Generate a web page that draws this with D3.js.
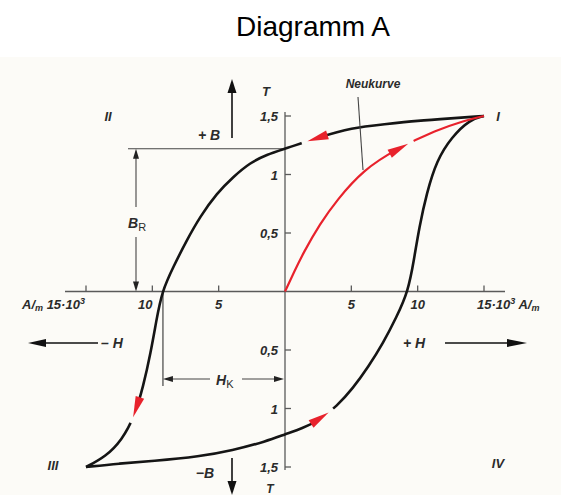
<!DOCTYPE html>
<html><head><meta charset="utf-8">
<script src="https://cdn.jsdelivr.net/npm/d3@7"></script>
<style>html,body{margin:0;padding:0;background:#fff;}svg{display:block;}</style>
</head><body>
<script>
// ---- Data (H in 10^3 A/m, B in T) ----
const title = "Diagramm A";
// descending branch I -> III
const branchDownH = [15, 12.5, 10, 7.5, 5, 2.6, 0, -1.38, -2.64, -3.9, -5.14, -6.4, -7.4, -8.42, -9.28, -9.7, -10.12, -10.68, -11.35, -12.3, -13.5, -15];
const branchDownB = [1.5, 1.48, 1.46, 1.43, 1.40, 1.32, 1.22, 1.17, 1.10, 0.98, 0.84, 0.64, 0.44, 0.21, 0, -0.25, -0.52, -0.81, -1.07, -1.27, -1.41, -1.5];
// ascending branch III -> I
const branchUpH = [-15, -12.5, -10, -6.4, -4, -1.4, 0, 1.3, 2.6, 3.9, 5.1, 6.3, 7.4, 8.4, 9.28, 9.72, 10.12, 10.68, 11.43, 12.56, 13.94, 15];
const branchUpB = [-1.5, -1.47, -1.45, -1.41, -1.36, -1.28, -1.22, -1.17, -1.10, -0.98, -0.83, -0.64, -0.44, -0.22, 0, 0.27, 0.55, 0.84, 1.12, 1.32, 1.47, 1.5];
// Neukurve (virgin curve)
const virginH = [0, 0.7, 1.38, 2.64, 3.9, 5.9, 8.42, 11.43, 13.5, 15];
const virginB = [0, 0.17, 0.33, 0.58, 0.78, 1.04, 1.22, 1.38, 1.46, 1.5];
// direction arrowheads: branch and H at tip
const arrowBranches = ["down", "virgin", "down", "up"];
const arrowTipH = [1.7, 9.27, -11.45, 3.3];
// ticks
const xTicks = [-15, -10, -5, 5, 10, 15];
const xTickLabels = ["", "10", "5", "5", "10", ""];
const yTicks = [1.5, 1, 0.5, -0.5, -1, -1.5];
const yTickLabels = ["1,5", "1", "0,5", "0,5", "1", "1,5"];
const remanenceB = 1.22;
const coerciveH = -9.2;

const W = 561, H = 495;
const svg = d3.select("body").append("svg").attr("width", W).attr("height", H);
const bg = "#fcfbf7";
svg.append("rect").attr("width", W).attr("height", H).attr("fill", "#fff");
svg.append("rect").attr("x", 0).attr("y", 57).attr("width", W).attr("height", H - 57).attr("fill", bg);

svg.append("text").attr("x", 313).attr("y", 36).attr("text-anchor", "middle")
  .attr("font-family", "Liberation Sans, Arial, sans-serif").attr("font-size", 28).attr("fill", "#000").text(title);

const x = d3.scaleLinear().domain([-15, 15]).range([86, 484]);
const y = d3.scaleLinear().domain([-1.5, 1.5]).range([467, 116]);
const x0 = x(0), y0 = y(0);
const axisCol = "#5a5a5a", ink = "#2b2b2b";
const lblFont = "Liberation Sans, Arial, sans-serif";

function txt(t, px, py, anchor, size) {
  return svg.append("text").attr("x", px).attr("y", py).attr("text-anchor", anchor || "start")
    .attr("font-family", lblFont).attr("font-style", "italic").attr("font-weight", "bold")
    .attr("font-size", size || 13).attr("fill", ink).text(t);
}
function arrowHead(tx, ty, dx, dy, len, hw, col) {
  const n = Math.hypot(dx, dy); dx /= n; dy /= n;
  const bx = tx - dx * len, by = ty - dy * len;
  svg.append("path").attr("d", `M${tx},${ty}L${bx - dy * hw},${by + dx * hw}L${bx + dy * hw},${by - dx * hw}Z`).attr("fill", col);
}
function line(x1, y1, x2, y2, col, w) {
  svg.append("line").attr("x1", x1).attr("y1", y1).attr("x2", x2).attr("y2", y2)
    .attr("stroke", col || axisCol).attr("stroke-width", w || 1.3);
}

// axes
line(65, y0, 505, y0);
line(x0, 112, x0, 470);
xTicks.forEach((t, i) => {
  line(x(t), y0, x(t), y0 - 6);
  if (xTickLabels[i]) txt(xTickLabels[i], x(t) + (t === -10 ? -7 : 0), y0 + 17, "middle", 13);
});
yTicks.forEach((t, i) => {
  line(x0, y(t), x0 + 6, y(t));
  txt(yTickLabels[i], x0 - 7, y(t) + 5, "end", 13);
});
// axis unit labels
const lft = txt("", 22, 309, "start", 13);
lft.append("tspan").text("A/");
lft.append("tspan").attr("font-size", 9).attr("dy", 2).text("m");
lft.append("tspan").attr("dy", -2).text(" 15·10");
lft.append("tspan").attr("font-size", 9).attr("dy", -5).text("3");
const rgt = txt("", 477, 309, "start", 13);
rgt.append("tspan").text("15·10");
rgt.append("tspan").attr("font-size", 9).attr("dy", -5).text("3");
rgt.append("tspan").attr("dy", 5).text(" A/");
rgt.append("tspan").attr("font-size", 9).attr("dy", 2).text("m");

// T labels and B arrows
txt("T", 266, 96, "middle", 13);
txt("T", 270, 493, "middle", 12);
line(232, 138, 232, 90, "#111", 1.6);
arrowHead(232, 79, 0, -1, 14, 4.5, "#111");
txt("+ B", 209, 140, "middle", 14);
line(232, 458, 232, 482, "#111", 1.6);
arrowHead(232, 495, 0, 1, 14, 4.5, "#111");
txt("−B", 205, 478, "middle", 14);
// H arrows
line(44, 343, 98, 343, "#111", 1.4);
arrowHead(28, 343, -1, 0, 18, 4, "#111");
txt("– H", 101, 348, "start", 14);
line(445, 343, 510, 343, "#111", 1.4);
arrowHead(527, 343, 1, 0, 20, 4, "#111");
txt("+ H", 403, 348, "start", 14);

// quadrant labels
txt("I", 498, 121, "middle", 13);
txt("II", 108, 121, "middle", 13);
txt("III", 53, 470, "middle", 13);
txt("IV", 498, 468, "middle", 13);

// B_R dimension
line(128, y(remanenceB), x0, y(remanenceB), "#444", 1.2);
line(136, y(remanenceB) + 8, 136, 207, "#444", 1.1);
line(136, 237, 136, y0 - 8, "#444", 1.1);
arrowHead(136, y(remanenceB), 0, -1, 10, 3, "#222");
arrowHead(136, y0, 0, 1, 10, 3, "#222");
const br = txt("B", 128, 228, "start", 14);
br.append("tspan").attr("font-style", "normal").attr("font-weight", "normal").attr("font-size", 11).attr("dy", 3).attr("fill", ink).text("R");
// H_K dimension
line(x(coerciveH), y0, x(coerciveH), 386, "#444", 1.2);
line(x(coerciveH) + 8, 379, 210, 379, "#444", 1.1);
line(242, 379, x0 - 8, 379, "#444", 1.1);
arrowHead(x(coerciveH), 379, -1, 0, 10, 3, "#222");
arrowHead(x0 - 1, 379, 1, 0, 10, 3, "#222");
const hk = txt("H", 216, 385, "start", 14);
hk.append("tspan").attr("font-style", "normal").attr("font-weight", "normal").attr("font-size", 11).attr("dy", 3).attr("fill", ink).text("K");

// curves
const gen = d3.line().x(d => x(d[0])).y(d => y(d[1])).curve(d3.curveBasis);
const branches = {
  down: d3.zip(branchDownH, branchDownB),
  up: d3.zip(branchUpH, branchUpB),
  virgin: d3.zip(virginH, virginB)
};
const black = "#151515", red = "#e8222c";
const paths = {};
paths.down = svg.append("path").attr("d", gen(branches.down)).attr("fill", "none").attr("stroke", black).attr("stroke-width", 2.6);
paths.up = svg.append("path").attr("d", gen(branches.up)).attr("fill", "none").attr("stroke", black).attr("stroke-width", 2.6);
paths.virgin = svg.append("path").attr("d", gen(branches.virgin)).attr("fill", "none").attr("stroke", red).attr("stroke-width", 2.2);

// Neukurve label + leader
txt("Neukurve", 373, 88, "middle", 12);
line(358, 97, 363, 170, "#444", 1.1);

// arrowheads along curves
arrowBranches.forEach((b, i) => {
  const node = paths[b].node();
  const total = node.getTotalLength();
  const tx = x(arrowTipH[i]);
  let best = 0, bd = Infinity;
  for (let L = 0; L <= total; L += 0.5) {
    const p = node.getPointAtLength(L);
    const d = Math.abs(p.x - tx);
    if (d < bd) { bd = d; best = L; }
  }
  const len = 21, gap = 6;
  const tip = node.getPointAtLength(best);
  const base = node.getPointAtLength(Math.max(0, best - len));
  const s = Math.max(0, best - len + 2);
  svg.append("path").attr("d", paths[b].attr("d")).attr("fill", "none").attr("stroke", bg).attr("stroke-width", 5)
    .attr("stroke-dasharray", `0,${s},${best + gap - s},${total}`);
  arrowHead(tip.x, tip.y, tip.x - base.x, tip.y - base.y, Math.hypot(tip.x - base.x, tip.y - base.y), 4.5, red);
});
</script>
</body></html>
